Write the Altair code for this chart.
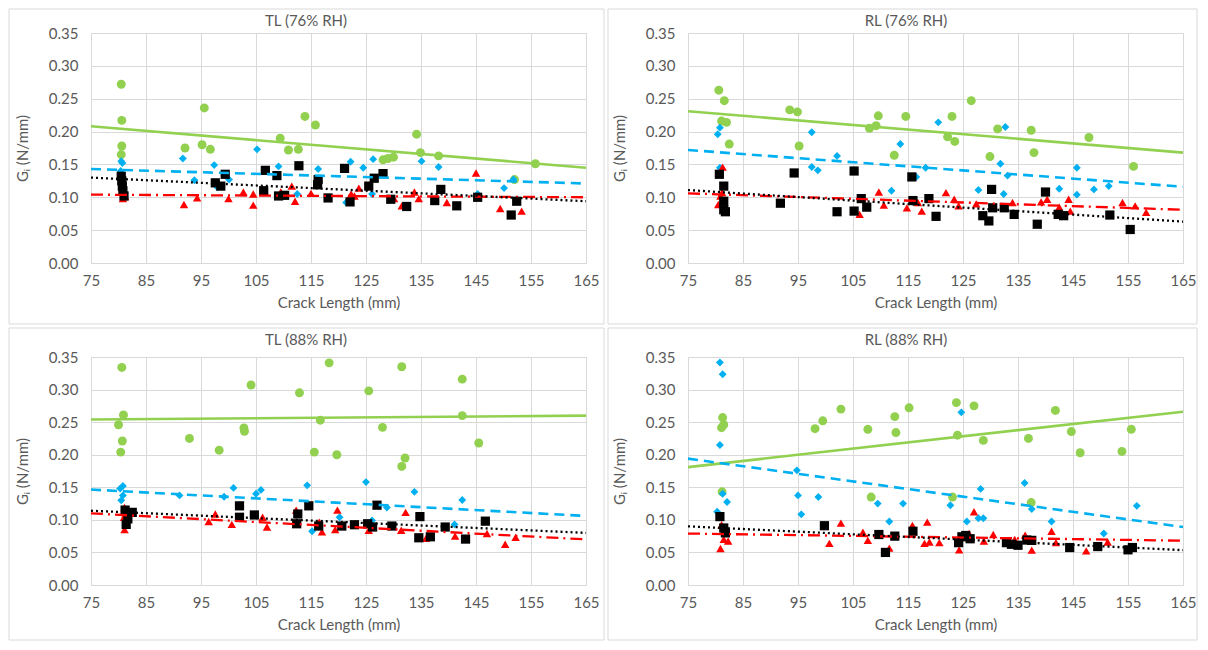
import altair as alt
import pandas as pd

# ---------------- data ----------------
# TL (76% RH)
TL76_green_x = [80.5, 80.6, 80.6, 80.5, 92.1, 95.6, 95.2, 96.7, 109.4, 110.9, 112.7, 113.9, 115.8, 128.1, 129.0, 130.0, 134.2, 134.9, 138.2, 152.0, 155.8]
TL76_green_y = [0.272, 0.217, 0.178, 0.165, 0.175, 0.236, 0.180, 0.173, 0.190, 0.172, 0.173, 0.223, 0.210, 0.157, 0.159, 0.161, 0.196, 0.168, 0.163, 0.127, 0.151]
TL76_blue_x = [80.5, 80.7, 80.4, 91.7, 93.8, 97.4, 98.0, 100.1, 105.2, 109.1, 112.5, 116.3, 121.4, 122.2, 124.5, 126.3, 126.1, 135.1, 138.2, 145.3, 150.1, 151.8]
TL76_blue_y = [0.155, 0.152, 0.140, 0.159, 0.126, 0.149, 0.115, 0.127, 0.173, 0.147, 0.105, 0.143, 0.092, 0.154, 0.145, 0.158, 0.105, 0.155, 0.146, 0.105, 0.114, 0.127]
TL76_red_x = [80.8, 81.2, 91.9, 94.3, 100.0, 102.7, 104.5, 104.5, 109.5, 111.5, 112.1, 115.0, 122.3, 122.9, 123.7, 130.1, 131.5, 133.8, 134.6, 139.7, 145.0, 149.4, 153.3]
TL76_red_y = [0.098, 0.101, 0.089, 0.099, 0.098, 0.108, 0.105, 0.088, 0.108, 0.117, 0.094, 0.106, 0.105, 0.102, 0.114, 0.098, 0.087, 0.108, 0.098, 0.092, 0.137, 0.083, 0.079]
TL76_black_x = [80.5, 80.6, 80.7, 80.8, 81.0, 97.6, 98.6, 99.4, 106.4, 106.7, 108.8, 109.1, 110.2, 112.8, 116.3, 116.2, 118.1, 121.1, 122.1, 125.5, 126.5, 128.1, 129.5, 132.4, 137.5, 138.6, 141.5, 145.3, 151.4, 152.4]
TL76_black_y = [0.132, 0.125, 0.117, 0.110, 0.102, 0.122, 0.117, 0.135, 0.110, 0.141, 0.133, 0.102, 0.103, 0.148, 0.127, 0.119, 0.099, 0.144, 0.093, 0.117, 0.129, 0.136, 0.097, 0.086, 0.095, 0.112, 0.087, 0.100, 0.073, 0.094]
TL76_trend = {"green": [0.208, 0.145], "blue": [0.143, 0.121], "red": [0.104, 0.100], "black": [0.130, 0.094]}

# RL (76% RH)
RL76_green_x = [80.6, 81.6, 81.1, 82.0, 82.5, 93.5, 94.9, 95.2, 108.0, 109.2, 109.6, 114.6, 112.5, 126.5, 123.0, 122.2, 123.5, 131.3, 129.9, 137.4, 137.9, 147.9, 156.0]
RL76_green_y = [0.263, 0.247, 0.216, 0.214, 0.181, 0.233, 0.230, 0.178, 0.205, 0.209, 0.224, 0.223, 0.164, 0.247, 0.223, 0.192, 0.185, 0.204, 0.162, 0.202, 0.168, 0.191, 0.147]
RL76_blue_x = [80.4, 80.8, 80.8, 97.5, 97.5, 98.6, 102.1, 112.0, 113.6, 116.5, 118.2, 120.5, 132.7, 131.8, 133.1, 127.8, 132.4, 142.5, 145.7, 145.7, 148.8, 151.5]
RL76_blue_y = [0.196, 0.206, 0.145, 0.199, 0.146, 0.141, 0.163, 0.110, 0.181, 0.131, 0.145, 0.214, 0.207, 0.151, 0.133, 0.111, 0.105, 0.113, 0.145, 0.104, 0.112, 0.117]
RL76_red_x = [81.3, 80.9, 80.5, 81.2, 106.2, 109.7, 110.6, 114.8, 116.8, 117.5, 121.9, 123.4, 124.2, 127.4, 134.0, 139.2, 140.3, 142.5, 144.2, 144.5, 154.0, 156.3, 158.3]
RL76_red_y = [0.146, 0.102, 0.089, 0.107, 0.074, 0.108, 0.088, 0.084, 0.092, 0.079, 0.107, 0.097, 0.087, 0.090, 0.092, 0.093, 0.097, 0.085, 0.097, 0.079, 0.092, 0.087, 0.077]
RL76_black_x = [80.7, 81.5, 81.5, 81.5, 81.8, 91.8, 94.3, 102.1, 105.2, 105.2, 106.5, 107.5, 115.7, 115.9, 118.8, 120.1, 130.2, 130.4, 128.6, 129.7, 132.5, 134.3, 140.0, 138.5, 142.3, 143.3, 151.7, 155.4]
RL76_black_y = [0.135, 0.117, 0.094, 0.081, 0.078, 0.091, 0.137, 0.078, 0.140, 0.079, 0.098, 0.085, 0.131, 0.095, 0.098, 0.071, 0.112, 0.084, 0.072, 0.064, 0.084, 0.074, 0.108, 0.059, 0.074, 0.072, 0.073, 0.051]
RL76_trend = {"green": [0.231, 0.168], "blue": [0.172, 0.116], "red": [0.106, 0.081], "black": [0.111, 0.063]}

# TL (88% RH)
TL88_green_x = [80.6, 80.9, 80.0, 80.7, 80.4, 92.9, 98.3, 102.8, 102.9, 104.1, 112.9, 116.7, 115.6, 118.3, 119.7, 125.5, 131.5, 128.0, 132.1, 131.5, 142.5, 142.5, 145.5]
TL88_green_y = [0.334, 0.261, 0.246, 0.221, 0.204, 0.225, 0.207, 0.241, 0.236, 0.307, 0.295, 0.253, 0.204, 0.341, 0.200, 0.298, 0.335, 0.242, 0.195, 0.182, 0.316, 0.260, 0.218]
TL88_blue_x = [80.8, 80.3, 80.8, 80.5, 91.1, 99.2, 100.9, 105.0, 105.9, 114.3, 115.2, 120.2, 125.0, 126.1, 128.8, 133.8, 141.1, 142.5]
TL88_blue_y = [0.152, 0.148, 0.1375, 0.130, 0.1375, 0.1355, 0.149, 0.140, 0.146, 0.153, 0.0825, 0.104, 0.158, 0.099, 0.119, 0.143, 0.093, 0.1305]
TL88_red_x = [81.1, 81.0, 81.1, 81.3, 96.4, 97.6, 100.6, 106.2, 107.0, 112.3, 116.5, 117.0, 119.4, 119.8, 125.5, 131.4, 132.2, 135.9, 141.2, 147.0, 150.3, 152.2]
TL88_red_y = [0.119, 0.104, 0.085, 0.109, 0.0975, 0.109, 0.093, 0.104, 0.089, 0.115, 0.0965, 0.0815, 0.085, 0.115, 0.084, 0.084, 0.1115, 0.0715, 0.075, 0.079, 0.0625, 0.073]
TL88_black_x = [81.2, 82.5, 81.7, 81.4, 102.0, 102.0, 104.7, 112.4, 112.6, 114.6, 116.4, 120.6, 122.9, 125.3, 126.2, 127.0, 129.7, 134.6, 134.8, 136.7, 139.4, 143.1, 146.7]
TL88_black_y = [0.115, 0.1115, 0.1015, 0.093, 0.1215, 0.104, 0.1075, 0.094, 0.109, 0.1215, 0.0905, 0.0905, 0.0925, 0.094, 0.089, 0.1225, 0.0905, 0.0725, 0.105, 0.074, 0.089, 0.0705, 0.098]
TL88_trend = {"green": [0.254, 0.260], "blue": [0.1465, 0.106], "red": [0.110, 0.070], "black": [0.114, 0.080]}

# RL (88% RH)
RL88_green_x = [81.3, 81.1, 81.5, 81.2, 98.1, 99.5, 102.8, 107.7, 108.3, 112.6, 112.8, 115.2, 123.8, 127.0, 124.0, 128.7, 136.9, 137.4, 141.8, 144.7, 146.3, 153.9, 155.6, 123.1]
RL88_green_y = [0.257, 0.2415, 0.246, 0.143, 0.240, 0.252, 0.270, 0.239, 0.135, 0.2585, 0.234, 0.272, 0.280, 0.275, 0.230, 0.222, 0.225, 0.1265, 0.268, 0.2355, 0.203, 0.205, 0.239, 0.135]
RL88_blue_x = [80.8, 81.3, 80.8, 94.8, 95.0, 95.6, 98.7, 81.3, 82.1, 80.3, 109.5, 111.6, 114.1, 122.7, 125.7, 127.8, 128.7, 128.2, 136.2, 137.5, 141.1, 150.6, 156.6, 124.7]
RL88_blue_y = [0.3415, 0.3235, 0.215, 0.176, 0.1375, 0.1085, 0.135, 0.140, 0.1275, 0.1125, 0.125, 0.0975, 0.125, 0.1225, 0.0975, 0.1025, 0.1025, 0.1475, 0.1565, 0.1165, 0.0975, 0.079, 0.1215, 0.265]
RL88_red_x = [81.1, 81.5, 82.3, 80.9, 100.7, 102.8, 106.8, 107.7, 111.6, 115.8, 118.5, 118.0, 118.9, 120.7, 124.3, 126.1, 127.0, 128.8, 130.5, 134.4, 136.3, 137.5, 141.1, 141.9, 147.4, 151.3]
RL88_red_y = [0.0925, 0.070, 0.0675, 0.056, 0.064, 0.095, 0.081, 0.0685, 0.0565, 0.0915, 0.0965, 0.064, 0.066, 0.065, 0.054, 0.079, 0.1125, 0.0675, 0.0775, 0.070, 0.0765, 0.0535, 0.0825, 0.065, 0.0525, 0.066]
RL88_black_x = [80.8, 81.5, 81.8, 99.8, 109.7, 110.9, 112.6, 115.9, 124.2, 124.8, 125.5, 126.3, 132.9, 133.8, 135.0, 136.6, 137.5, 144.4, 149.5, 155.0, 155.8]
RL88_black_y = [0.105, 0.0875, 0.080, 0.091, 0.0775, 0.050, 0.075, 0.0825, 0.065, 0.074, 0.076, 0.071, 0.065, 0.0625, 0.061, 0.069, 0.0685, 0.0575, 0.059, 0.054, 0.0575]
RL88_trend = {"green": [0.181, 0.266], "blue": [0.194, 0.089], "red": [0.079, 0.068], "black": [0.090, 0.0535]}

PANEL_TITLES = ["TL (76% RH)", "RL (76% RH)", "TL (88% RH)", "RL (88% RH)"]
TREND_X = [75, 165]
X_TICKS = [75, 85, 95, 105, 115, 125, 135, 145, 155, 165]
Y_TICKS = [0.0, 0.05, 0.10, 0.15, 0.20, 0.25, 0.30, 0.35]

# ---------------- styling ----------------
FONT = "Lato"
TXT = "#595959"
GRID = "#d9d9d9"
W = 495
FS = 15

STYLE = {
    "green": dict(color="#92D050", shape="circle", size=80, dash=None, lw=2.6),
    "blue": dict(color="#00B0F0", shape="diamond", size=62, dash=[10, 6], lw=2.6),
    "red": dict(color="#FF0000", shape="triangle-up", size=72, dash=[12, 5, 2, 5], lw=2.3),
    "black": dict(color="#000000", shape="square", size=85, dash=[2, 3], lw=2.3),
}


def panel(title, data, trend, height, box, title_x, title_y):
    xs = alt.Scale(domain=[75, 165], nice=False, zero=False)
    ys = alt.Scale(domain=[0, 0.35], nice=False)
    xax = alt.Axis(values=X_TICKS, grid=True, gridColor=GRID, domainColor=GRID, ticks=False,
                   labelFlush=False, labelFontSize=FS, labelColor=TXT, labelFont=FONT,
                   labelPadding=10, title="Crack Length (mm)", titleFontSize=FS, titleFont=FONT,
                   titleFontWeight="normal", titleColor=TXT, titlePadding=7)
    yax = alt.Axis(values=Y_TICKS, format=".2f", grid=True, gridColor=GRID, domain=False, ticks=False,
                   labelFlush=False, labelFontSize=FS, labelColor=TXT, labelFont=FONT,
                   labelPadding=13, title="Gᵢ (N/mm)", titleFontSize=FS, titleFont=FONT,
                   titleFontWeight="normal", titleColor=TXT, titlePadding=18)

    one = pd.DataFrame({"k": [0]})
    frame = alt.Chart(one).mark_rect(
        filled=False, stroke=GRID, strokeWidth=1
    ).encode(
        x=alt.value(box[0]), x2=alt.value(box[1]), y=alt.value(box[2]), y2=alt.value(box[3])
    )
    head = alt.Chart(one).mark_text(
        font=FONT, fontSize=FS, color=TXT, align="center", baseline="middle"
    ).encode(x=alt.value(title_x), y=alt.value(title_y), text=alt.value(title))

    layers = [frame, head]
    for name in ["green", "blue", "red", "black"]:
        st = STYLE[name]
        xv, yv = data[name]
        df = pd.DataFrame({"x": xv, "y": yv})
        layers.append(
            alt.Chart(df).mark_point(shape=st["shape"], filled=True, size=st["size"],
                                     color=st["color"], opacity=1).encode(
                x=alt.X("x:Q", scale=xs, axis=xax),
                y=alt.Y("y:Q", scale=ys, axis=yax),
            )
        )
    for name in ["green", "blue", "red", "black"]:
        st = STYLE[name]
        df = pd.DataFrame({"x": TREND_X, "y": trend[name]})
        kw = dict(color=st["color"], strokeWidth=st["lw"])
        if st["dash"]:
            kw["strokeDash"] = st["dash"]
        layers.append(
            alt.Chart(df).mark_line(**kw).encode(
                x=alt.X("x:Q", scale=xs, axis=xax),
                y=alt.Y("y:Q", scale=ys, axis=yax),
            )
        )
    return alt.layer(*layers).properties(width=W, height=height)


p1 = panel(PANEL_TITLES[0],
           {"green": (TL76_green_x, TL76_green_y), "blue": (TL76_blue_x, TL76_blue_y),
            "red": (TL76_red_x, TL76_red_y), "black": (TL76_black_x, TL76_black_y)},
           TL76_trend, 230, (-82, 513, -24, 291), 215, -12)
p2 = panel(PANEL_TITLES[1],
           {"green": (RL76_green_x, RL76_green_y), "blue": (RL76_blue_x, RL76_blue_y),
            "red": (RL76_red_x, RL76_red_y), "black": (RL76_black_x, RL76_black_y)},
           RL76_trend, 230, (-80, 509, -24, 291), 218, -12)
p3 = panel(PANEL_TITLES[2],
           {"green": (TL88_green_x, TL88_green_y), "blue": (TL88_blue_x, TL88_blue_y),
            "red": (TL88_red_x, TL88_red_y), "black": (TL88_black_x, TL88_black_y)},
           TL88_trend, 228, (-82, 513, -29, 283), 215, -17)
p4 = panel(PANEL_TITLES[3],
           {"green": (RL88_green_x, RL88_green_y), "blue": (RL88_blue_x, RL88_blue_y),
            "red": (RL88_red_x, RL88_red_y), "black": (RL88_black_x, RL88_black_y)},
           RL88_trend, 228, (-80, 509, -29, 283), 218, -17)

chart = alt.concat(p1, p2, p3, p4, columns=2, spacing={"row": 94, "column": 102},
                   bounds="flush").properties(
    padding=0
).configure_view(stroke=None).configure(background="white")

chart.save("out.html", embed_options={"renderer": "svg", "actions": False})
